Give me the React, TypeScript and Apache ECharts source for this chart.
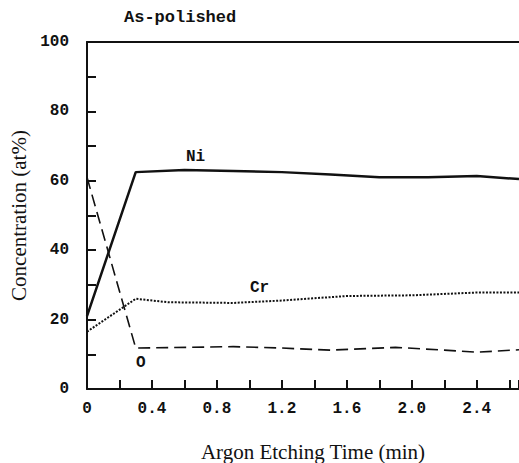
import React, { useEffect, useRef } from "react";
import * as echarts from "echarts";

const niData: [number, number][] = [
  [0, 21], [0.3, 62.5], [0.6, 63.1], [0.9, 62.8], [1.2, 62.5], [1.5, 61.8],
  [1.8, 61], [2.1, 61], [2.4, 61.4], [2.66, 60.5],
];
const crData: [number, number][] = [
  [0, 16.5], [0.3, 26], [0.5, 25], [0.9, 24.8], [1.2, 25.5], [1.6, 26.8],
  [2.0, 27], [2.4, 27.8], [2.66, 27.8],
];
const oData: [number, number][] = [
  [0, 61], [0.3, 11.8], [0.9, 12.2], [1.2, 11.8], [1.5, 11.2], [1.9, 12],
  [2.2, 11.2], [2.4, 10.6], [2.66, 11.3],
];
const title = "As-polished";
const xTitle = "Argon Etching Time (min)";
const yTitle = "Concentration (at%)";

const mono = "'Liberation Mono', 'DejaVu Sans Mono', monospace";
const serif = "'Liberation Serif', 'DejaVu Serif', serif";

export default function App() {
  const ref = useRef<HTMLDivElement>(null);
  useEffect(() => {
    if (!ref.current) return;
    const chart = echarts.init(ref.current, null, { renderer: "svg" });
    const ink = "#111";
    chart.setOption({
      animation: false,
      backgroundColor: "#fff",
      grid: { left: 87, right: 0, top: 42, bottom: 74, containLabel: false, outerBoundsMode: "none" },
      xAxis: [
        {
          type: "value",
          min: 0,
          max: 2.66,
          interval: 0.2,
          splitLine: { show: false },
          axisLine: { lineStyle: { color: ink, width: 2 } },
          axisTick: { inside: true, length: 9, lineStyle: { color: ink, width: 2 } },
          axisLabel: {
            margin: 12,
            color: ink,
            fontFamily: mono,
            fontSize: 16,
            fontWeight: "bold",
            formatter: (v: number) => {
              const r = Math.round(v * 10);
              if (Math.abs(v * 10 - r) > 0.01 || r % 4 !== 0) return "";
              return r === 0 ? "0" : v.toFixed(1);
            },
          },
          name: xTitle,
          nameLocation: "middle",
          nameGap: 52,
          nameTextStyle: { fontFamily: serif, fontSize: 21, color: ink, padding: [0, 0, 0, 20] },
        },
        {
          type: "value",
          position: "top",
          min: 0,
          max: 2.66,
          axisLine: { show: true, lineStyle: { color: ink, width: 2 } },
          axisTick: { show: false },
          axisLabel: { show: false },
          splitLine: { show: false },
        },
      ],
      yAxis: {
        type: "value",
        min: 0,
        max: 100,
        interval: 10,
        splitLine: { show: false },
        axisLine: { show: true, lineStyle: { color: ink, width: 2 } },
        axisTick: { show: true, inside: true, length: 9, lineStyle: { color: ink, width: 2 } },
        axisLabel: {
          margin: 18,
          color: ink,
          fontFamily: mono,
          fontSize: 16,
          fontWeight: "bold",
          formatter: (v: number) => (v % 20 === 0 ? String(v) : ""),
        },
        name: yTitle,
        nameLocation: "middle",
        nameGap: 58,
        nameTextStyle: { fontFamily: serif, fontSize: 21, color: ink },
      },
      series: [
        {
          name: "Ni",
          type: "line",
          data: niData,
          showSymbol: false,
          lineStyle: { color: ink, width: 2.5, type: "solid" },
        },
        {
          name: "Cr",
          type: "line",
          data: crData,
          showSymbol: false,
          lineStyle: { color: ink, width: 2, type: [2, 1.5] },
        },
        {
          name: "O",
          type: "line",
          data: oData,
          showSymbol: false,
          lineStyle: { color: ink, width: 1.6, type: [12, 6] },
        },
      ],
      graphic: [
        {
          type: "text",
          left: 124,
          top: 9,
          style: { text: title, font: `bold 17px ${mono}`, fill: ink },
        },
        { type: "text", left: 186, top: 149, style: { text: "Ni", font: `bold 16px ${mono}`, fill: ink } },
        { type: "text", left: 250, top: 280, style: { text: "Cr", font: `bold 16px ${mono}`, fill: ink } },
        { type: "text", left: 136, top: 355, style: { text: "O", font: `bold 16px ${mono}`, fill: ink } },
      ],
    });
    return () => chart.dispose();
  }, []);
  return <div ref={ref} style={{ width: 519, height: 463, position: "absolute", left: 0, top: 0 }} />;
}
